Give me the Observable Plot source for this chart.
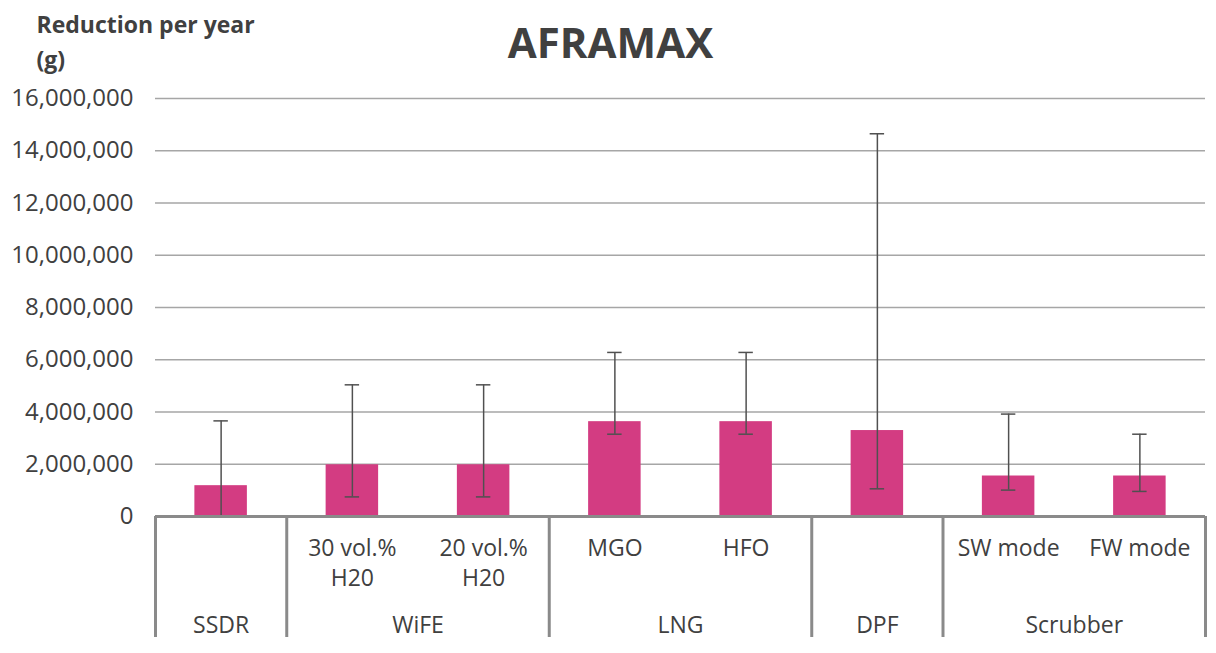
<!DOCTYPE html>
<html><head><meta charset="utf-8">
<script src="https://cdn.jsdelivr.net/npm/d3@7"></script>
<script src="https://cdn.jsdelivr.net/npm/@observablehq/plot@0.6"></script>
<style>html,body{margin:0;padding:0;background:#fff;}</style>
</head><body><div id="chart"></div>
<script>
const title = "AFRAMAX";
const yTitle = "Reduction per year\n(g)";
const groups = ["SSDR", "WiFE", "LNG", "DPF", "Scrubber"];
const groupOf = ["SSDR", "WiFE", "WiFE", "LNG", "LNG", "DPF", "Scrubber", "Scrubber"];
const subLabels = ["", "30 vol.%\nH20", "20 vol.%\nH20", "MGO", "HFO", "", "SW mode", "FW mode"];
const values = [1180000, 1980000, 1980000, 3630000, 3630000, 3290000, 1550000, 1550000];
const errLow = [0, 750000, 750000, 3150000, 3150000, 1060000, 1010000, 960000];
const errHigh = [3660000, 5040000, 5040000, 6280000, 6280000, 14650000, 3920000, 3150000];
const yTicks = [0, 2000000, 4000000, 6000000, 8000000, 10000000, 12000000, 14000000, 16000000];

const rows = values.map((v, i) => ({i, group: groupOf[i], sub: subLabels[i], value: v, low: errLow[i], high: errHigh[i]}));
const groupInfo = groups.map(g => {
  const idx = rows.filter(r => r.group === g).map(r => r.i);
  return {group: g, first: d3.min(idx), last: d3.max(idx), center: d3.mean(idx)};
});
const boundaries = [groupInfo[0].first - 0.5, ...groupInfo.map(g => g.last + 0.5)];

const textColor = "#404040";
const lineColor = "#8a8a8a";
const halfBar = 0.2, halfCap = 0.055;

const chart = Plot.plot({
  width: 1216, height: 653,
  marginTop: 98, marginBottom: 137, marginLeft: 155, marginRight: 11,
  style: {fontFamily: "'Open Sans', sans-serif", color: textColor, background: "#fff"},
  x: {type: "linear", domain: [-0.5, values.length - 0.5], axis: null},
  y: {domain: [0, 16000000], axis: null},
  marks: [
    Plot.gridY(yTicks.filter(t => t > 0), {stroke: "#a6a6a6", strokeOpacity: 1, strokeWidth: 1.5}),
    Plot.axisY(yTicks, {tickSize: 0, tickPadding: 22, tickFormat: d3.format(","), fontSize: 24, fill: textColor}),
    Plot.rectY(rows, {x1: d => d.i - halfBar, x2: d => d.i + halfBar, y1: 0, y2: "value", fill: "#d33c82"}),
    Plot.ruleX(rows, {x: "i", y1: "low", y2: "high", stroke: "#505050", strokeWidth: 1.5}),
    Plot.ruleY(rows, {x1: d => d.i - halfCap, x2: d => d.i + halfCap, y: "high", stroke: "#505050", strokeWidth: 1.5}),
    Plot.ruleY(rows, {x1: d => d.i - halfCap, x2: d => d.i + halfCap, y: "low", stroke: "#505050", strokeWidth: 1.5}),
    Plot.ruleY([0], {stroke: lineColor, strokeWidth: 3}),
    Plot.ruleX(boundaries, {y1: 0, y2: 0, insetBottom: -121, stroke: lineColor, strokeWidth: 3}),
    Plot.text(rows, {x: "i", text: "sub", frameAnchor: "bottom", lineAnchor: "top", dy: 19, fontSize: 23, lineHeight: 1.28, fill: textColor}),
    Plot.text(groupInfo, {x: "center", text: "group", frameAnchor: "bottom", lineAnchor: "top", dy: 100, fontSize: 23, fill: textColor}),
    Plot.text([title], {frameAnchor: "top-left", textAnchor: "middle", dx: 455, dy: -54, lineAnchor: "middle", fontSize: 42, fontWeight: "bold", fill: textColor}),
    Plot.text([yTitle], {frameAnchor: "top-left", textAnchor: "start", dx: -119, dy: -91, lineAnchor: "top", fontSize: 23, fontWeight: "bold", lineHeight: 1.55, fill: textColor})
  ]
});
document.getElementById("chart").append(chart);
</script>
</body></html>
